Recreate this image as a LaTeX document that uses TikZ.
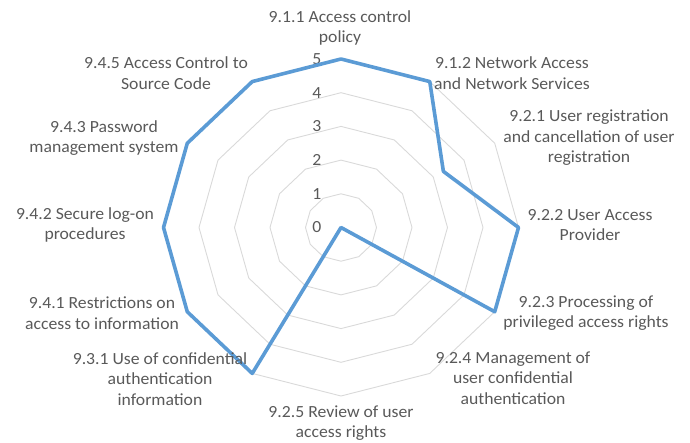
\documentclass[tikz,border=0pt]{standalone}
\usepackage{fontspec}
\setmainfont{Carlito}[FakeStretch=1.04]
\usetikzlibrary{positioning}
\definecolor{seriesblue}{RGB}{91,155,213}
\definecolor{gridgray}{RGB}{217,217,217}
\definecolor{labelgray}{RGB}{89,89,89}
\tikzset{%
  % rings of the value scale
  ring/.style = {draw=gridgray, line width=0.9pt},
  series/.style = {draw=seriesblue, line width=3.6pt, line join=round},
  % axis captions and scale numbers
  catlabel/.style = {text=labelgray, align=center, inner sep=0pt,
    font=\fontsize{17}{20.5}\selectfont},
  ticklabel/.style = {text=labelgray, anchor=east, inner sep=0pt,
    font=\fontsize{17}{20.5}\selectfont},
}

\begin{document}
\begin{tikzpicture}[x=1pt,y=-1pt]
  \useasboundingbox (0,0) rectangle (690,443);
  \begin{scope}[shift={(341,227.5)}, x=35.5pt, y=33.7pt]
    % value rings 1..5
    \foreach \r in {1,...,5}
      \draw[ring] (90:\r) \foreach \i in {1,...,11} { -- ({90-30*\i}:\r) } -- cycle;
    % scale numbers
    \foreach \r in {0,...,5}
      \node[ticklabel] (tick\r) at (-0.55,\r) {\r};
    % one point per control
    \foreach \v [count=\i from 0] in {5,5,3.33,5,5,0,0,5,5,5,5,5}
      \coordinate (p\i) at ({90-30*\i}:\v);
    \draw[series] (p0) -- (p1) -- (p2) -- (p3) -- (p4) -- (p5) -- (p6)
      -- (p7) -- (p8) -- (p9) -- (p10) -- (p11) -- cycle;
  \end{scope}
  % axis captions
  \node(c911)[catlabel] at (340,28) {9.1.1 Access control\\policy};
  \node(c912)[catlabel] at (512,73) {9.1.2 Network Access\\and Network Services};
  \node(c921)[catlabel] at (589,138) {9.2.1 User registration\\and cancellation of user\\registration};
  \node(c922)[catlabel] at (590,225) {9.2.2 User Access\\Provider};
  \node(c923)[catlabel] at (586,313) {9.2.3 Processing of\\privileged access rights};
  \node(c924)[catlabel] at (513,378) {9.2.4 Management of\\user confidential\\authentication};
  \node(c925)[catlabel] at (341,423) {9.2.5 Review of user\\access rights};
  \node(c931)[catlabel] at (160,379) {9.3.1 Use of confidential\\authentication\\information};
  \node(c941)[catlabel] at (102,313) {9.4.1 Restrictions on\\access to information};
  \node(c942)[catlabel] at (85,225) {9.4.2 Secure log-on\\procedures};
  \node(c943)[catlabel] at (104,138) {9.4.3 Password\\management system};
  \node(c945)[catlabel] at (166,73) {9.4.5 Access Control to\\Source Code};
\end{tikzpicture}
\end{document}
